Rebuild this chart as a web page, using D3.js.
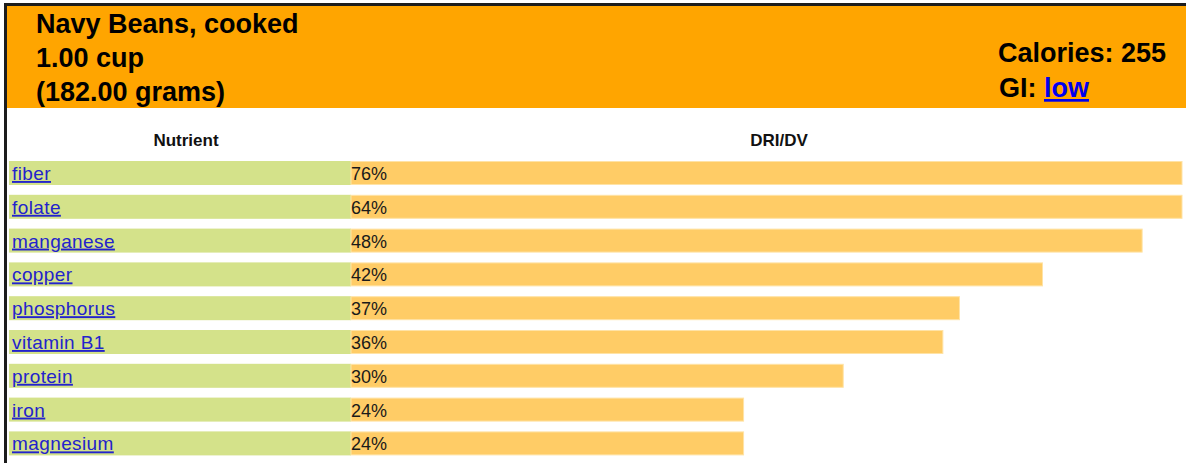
<!DOCTYPE html>
<html>
<head>
<meta charset="utf-8">
<script src="https://cdn.jsdelivr.net/npm/d3@7"></script>
<style>
  body { margin: 0; background: #fff; }
  svg { display: block; font-family: Arial, "Liberation Sans", sans-serif; }
</style>
</head>
<body>
<svg id="chart"></svg>
<script>
const width = 1186
const height = 463

// data
const titleLines = ['Navy Beans, cooked', '1.00 cup', '(182.00 grams)']
const calories = 255
const giLabel = 'low'
const nutrients = ['fiber', 'folate', 'manganese', 'copper', 'phosphorus', 'vitamin B1', 'protein', 'iron', 'magnesium']
const driValues = [76, 64, 48, 42, 37, 36, 30, 24, 24]
const columnHeads = ['Nutrient', 'DRI/DV']

const rows = nutrients.map((n, i) => ({ name: n, value: driValues[i] }))

const svg = d3.select('#chart').attr('width', width).attr('height', height)

// frame lines (top + left)
svg.append('rect').attr('x', 4).attr('y', 3).attr('width', width - 4).attr('height', 3).attr('fill', '#1c1c1c')
svg.append('rect').attr('x', 4).attr('y', 3).attr('width', 3).attr('height', height - 3).attr('fill', '#1c1c1c')

// orange header block
svg.append('rect').attr('x', 7).attr('y', 6).attr('width', width - 7).attr('height', 102).attr('fill', '#FFA500')

const head = svg.append('g').attr('font-weight', 'bold').attr('font-size', 27).attr('fill', '#000')
head.selectAll('text.title')
  .data(titleLines)
  .enter().append('text')
  .attr('class', 'title')
  .attr('x', 36)
  .attr('y', (d, i) => 33 + i * 34)
  .text(d => d)

head.append('text')
  .attr('x', 1166).attr('y', 62)
  .attr('text-anchor', 'end')
  .text('Calories: ' + calories)

const gi = head.append('text').attr('x', 999).attr('y', 97)
gi.append('tspan').text('GI: ')
gi.append('tspan').attr('fill', '#0000EE').attr('text-decoration', 'underline').text(giLabel)

// column heads
svg.selectAll('text.colhead')
  .data(columnHeads)
  .enter().append('text')
  .attr('class', 'colhead')
  .attr('x', (d, i) => i === 0 ? 186 : 779)
  .attr('y', 146)
  .attr('text-anchor', 'middle')
  .attr('font-weight', 'bold')
  .attr('font-size', 17)
  .attr('fill', '#111')
  .text(d => d)

// scales
const y = d3.scaleBand()
  .domain(nutrients)
  .range([156.1, 460.3])
  .paddingInner(0.29)
  .paddingOuter(0.145)

const x = d3.scaleLinear()
  .domain([0, 50.4])
  .range([345, 1182])
  .clamp(true)

const labelEnd = 351

const row = svg.append('g').selectAll('g')
  .data(rows)
  .enter().append('g')
  .attr('transform', d => `translate(0,${y(d.name)})`)

row.append('rect')
  .attr('x', 9)
  .attr('width', labelEnd - 9)
  .attr('height', y.bandwidth())
  .attr('fill', '#D4E28A')

row.append('rect')
  .attr('x', labelEnd)
  .attr('width', d => Math.max(0, x(d.value) - labelEnd))
  .attr('height', y.bandwidth() - 1)
  .attr('y', 0.5)
  .attr('fill', '#FFCC66')
  .attr('stroke', '#FFE3A6')
  .attr('stroke-width', 1)

row.append('text')
  .attr('x', 12)
  .attr('y', y.bandwidth() / 2 + 7)
  .attr('font-size', 19)
  .attr('letter-spacing', 0.4)
  .attr('fill', '#2323CC')
  .attr('text-decoration', 'underline')
  .text(d => d.name)

row.append('text')
  .attr('x', 351)
  .attr('y', y.bandwidth() / 2 + 7)
  .attr('font-size', 18)
  .attr('fill', '#1a1a1a')
  .text(d => d.value + '%')
</script>
</body>
</html>
